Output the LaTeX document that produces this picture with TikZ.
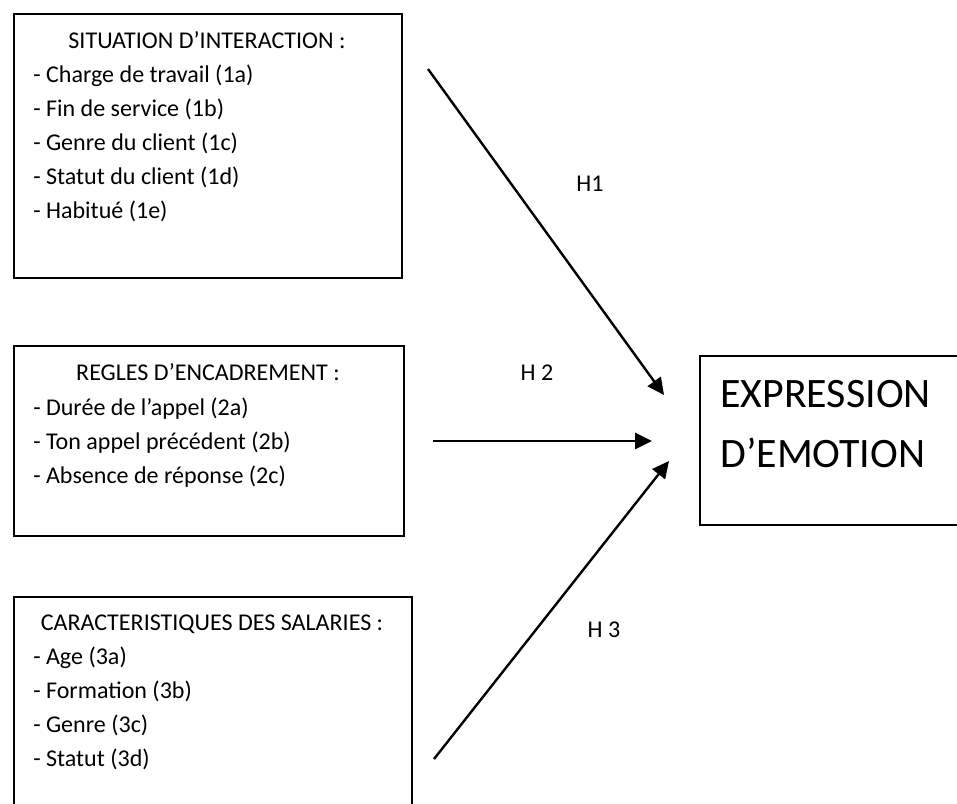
\documentclass[tikz,border=0pt]{standalone}
\usepackage{fontspec}
\setmainfont{Carlito}
\usetikzlibrary{arrows.meta}
\tikzset{
  cadre/.style={draw, line width=1.3pt, anchor=north west, inner sep=0pt},
  ligne/.style={anchor=base west, inner sep=0pt, font=\fontsize{17.1}{20}\selectfont},
  titre/.style={anchor=base, inner sep=0pt, font=\fontsize{17.1}{20}\selectfont},
  grand/.style={anchor=base west, inner sep=0pt, font=\fontsize{29.8}{36}\selectfont},
  fleche/.style={line width=1.7pt, -{Triangle[length=0.42cm,width=0.4cm]}},
}
\begin{document}
\begin{tikzpicture}[x=0.025cm,y=-0.025cm]
     \clip (0,0) rectangle (957,803);
     \node [cadre, minimum width=9.7cm, minimum height=6.6cm] (sit) at (13,13) {};
     \node [cadre, minimum width=9.75cm, minimum height=4.75cm] (regles) at (13,345) {};
     \node [cadre, minimum width=9.95cm, minimum height=6cm] (carac) at (13,596) {};
     \node [cadre, minimum width=7.5cm, minimum height=4.225cm] (expr) at (699,355) {};

     % situation d'interaction
     \node [titre] at (207,48) (sitT) {SITUATION D’INTERACTION :};
     \node [ligne] at (33,82) (sit1) {- Charge de travail (1a)};
     \node [ligne] at (33,116) (sit2) {- Fin de service (1b)};
     \node [ligne] at (33,150) (sit3) {- Genre du client (1c)};
     \node [ligne] at (33,184) (sit4) {- Statut du client (1d)};
     \node [ligne] at (33,218) (sit5) {- Habitué (1e)};

     % regles d'encadrement
     \node [titre] at (208,380) (reglesT) {REGLES D’ENCADREMENT :};
     \node [ligne] at (33,415) (regles1) {- Durée de l’appel (2a)};
     \node [ligne] at (33,449) (regles2) {- Ton appel précédent (2b)};
     \node [ligne] at (33,483) (regles3) {- Absence de réponse (2c)};

     % caracteristiques des salaries
     \node [titre] at (212,630) (caracT) {CARACTERISTIQUES DES SALARIES :};
     \node [ligne] at (33,664) (carac1) {- Age (3a)};
     \node [ligne] at (33,698) (carac2) {- Formation (3b)};
     \node [ligne] at (33,732) (carac3) {- Genre (3c)};
     \node [ligne] at (33,766) (carac4) {- Statut (3d)};

     \node [grand] at (720,407) (exprA) {EXPRESSION};
     \node [grand] at (720,467) (exprB) {D’EMOTION};

     % hypotheses
     \coordinate (h1a) at (428,69);
     \coordinate (h1b) at (664,395);
     \coordinate (h2a) at (433,441);
     \coordinate (h2b) at (652,441);
     \coordinate (h3a) at (434,759);
     \coordinate (h3b) at (669,461);
     \draw [fleche] (h1a) -- (h1b);
     \draw [fleche] (h2a) -- (h2b);
     \draw [fleche] (h3a) -- (h3b);

      \node [titre, anchor=center] at (590,184) (h1) {H1};
      \node [titre, anchor=center] at (537,373) (h2) {H 2};
      \node [titre, anchor=center] at (604,630) (h3) {H 3};
\end{tikzpicture}
\end{document}
